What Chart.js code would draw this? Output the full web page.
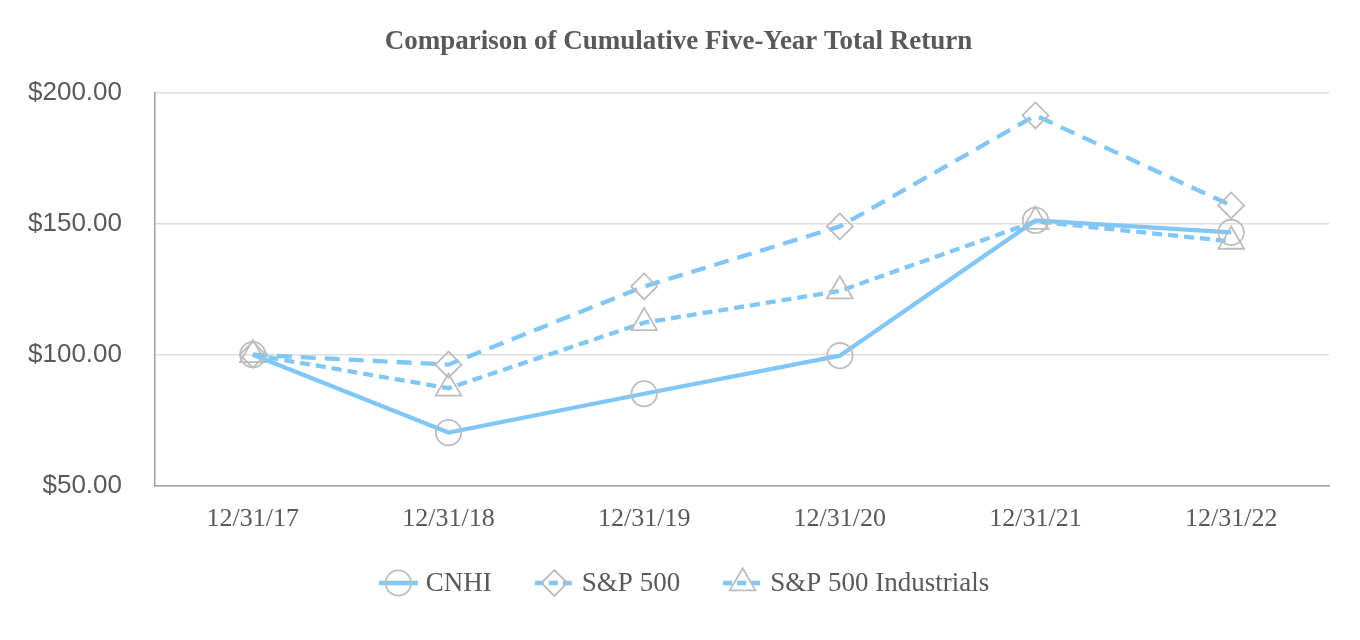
<!DOCTYPE html>
<html>
<head>
<meta charset="utf-8">
<script src="https://cdn.jsdelivr.net/npm/chart.js@4.4.1/dist/chart.umd.min.js"></script>
<style>
  html, body { margin: 0; padding: 0; background: #fff; }
  #wrap { width: 1360px; height: 640px; }
</style>
</head>
<body>
<div id="wrap"><canvas id="returns-chart" width="1360" height="640"></canvas></div>
<script>
// Values
const yearLabels = ["12/31/17", "12/31/18", "12/31/19", "12/31/20", "12/31/21", "12/31/22"];
const cnhiValues = [100, 70.3, 85.1, 99.6, 151.2, 146.6];
const sp500Values = [100, 96.2, 126, 148.9, 191.2, 156.9];
const industrialsValues = [100, 87.2, 112.2, 124.3, 150.8, 143.2];
const yTicks = [50, 100, 150, 200];

const lineColor = "#80c6f6";
const markerColor = "#bdbdbd";
const textColor = "#595959";
const serif = "Liberation Serif";

const seriesStyles = [
  { label: "CNHI", data: cnhiValues, dash: [], pointStyle: "circle", radius: 12.7 },
  { label: "S&P 500", data: sp500Values, dash: [15, 9], pointStyle: "rectRot", radius: 13 },
  { label: "S&P 500 Industrials", data: industrialsValues, dash: [10, 6], pointStyle: "triangle", radius: 14.8 }
];

const datasets = seriesStyles.map((s) => ({
  label: s.label,
  data: s.data,
  borderColor: lineColor,
  borderWidth: 4.3,
  borderDash: s.dash,
  tension: 0,
  fill: false,
  pointStyle: s.pointStyle,
  pointRadius: s.radius,
  pointHoverRadius: s.radius,
  pointBackgroundColor: "rgba(255,255,255,0)",
  pointBorderColor: markerColor,
  pointBorderWidth: 1.8
}));

// legend drawn by hand: line swatch with the marker on it, then the name
const swatchLegend = {
  id: "swatchLegend",
  afterDraw(chart) {
    const g = chart.ctx;
    const y = 583;
    const swatchW = 39, textGap = 8, itemGap = 43;
    g.save();
    g.font = "27px " + serif;
    const widths = seriesStyles.map((s) => swatchW + textGap + g.measureText(s.label).width);
    const total = widths.reduce((a, b) => a + b, 0) + itemGap * (widths.length - 1);
    let x = (chart.width - total) / 2 + 4;
    seriesStyles.forEach((s, i) => {
      g.strokeStyle = lineColor;
      g.lineWidth = 4.3;
      g.setLineDash(s.dash.length ? [9, 5] : []);
      g.beginPath();
      g.moveTo(x, y);
      g.lineTo(x + swatchW, y);
      g.stroke();
      g.setLineDash([]);
      g.fillStyle = "rgba(255,255,255,0)";
      g.strokeStyle = markerColor;
      g.lineWidth = 1.8;
      Chart.helpers.drawPoint(g, {
        pointStyle: s.pointStyle,
        radius: s.radius,
        borderWidth: 1.8
      }, x + swatchW / 2, y);
      g.fillStyle = textColor;
      g.textBaseline = "middle";
      g.textAlign = "left";
      g.fillText(s.label, x + swatchW + textGap, y + 1);
      x += widths[i] + itemGap;
    });
    g.restore();
  }
};

const ctx = document.getElementById("returns-chart").getContext("2d");
const chart = new Chart(ctx, {
  type: "line",
  data: { labels: yearLabels, datasets: datasets },
  options: {
    responsive: false,
    animation: false,
    layout: { padding: { left: 28, right: 31, top: 0, bottom: 87 } },
    plugins: {
      title: {
        display: true,
        text: "Comparison of Cumulative Five-Year Total Return",
        color: textColor,
        font: { family: serif, size: 27, weight: "bold" },
        padding: { top: 26, bottom: 34 }
      },
      legend: { display: false },
      tooltip: { enabled: false }
    },
    scales: {
      x: {
        offset: true,
        grid: { display: false, drawTicks: false },
        border: { color: "#a0a0a0", width: 1.5 },
        ticks: {
          color: textColor,
          font: { family: serif, size: 26 },
          padding: 18,
          maxRotation: 0
        }
      },
      y: {
        min: 50,
        max: 200,
        afterBuildTicks: (axis) => { axis.ticks = yTicks.map((v) => ({ value: v })); },
        afterFit: (axis) => { axis.width = 127; },
        grid: { color: "#dedede", lineWidth: 1.5, drawTicks: false },
        border: { color: "#a0a0a0", width: 1.5 },
        ticks: {
          color: textColor,
          font: { family: "Liberation Sans", size: 26 },
          padding: 33,
          callback: (v) => "$" + Number(v).toFixed(2)
        }
      }
    }
  },
  plugins: [swatchLegend]
});
</script>
</body>
</html>
